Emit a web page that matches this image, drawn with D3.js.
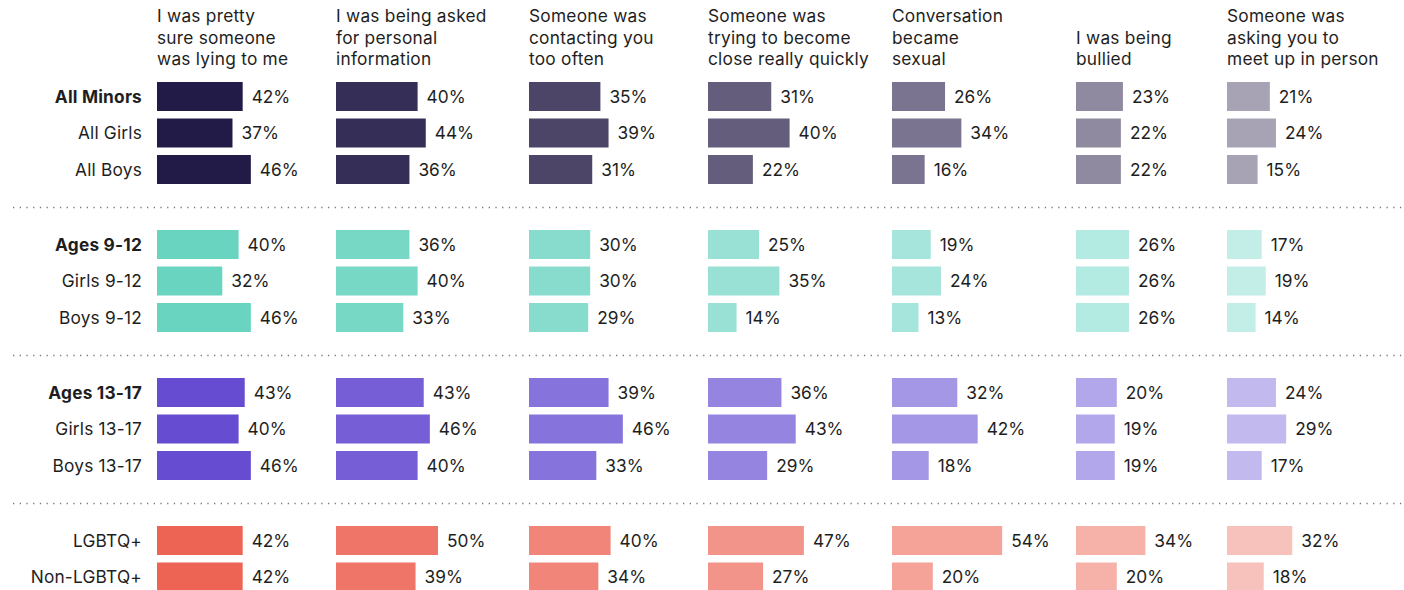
<!DOCTYPE html>
<html>
<head>
<meta charset="utf-8">
<script src="https://cdn.jsdelivr.net/npm/d3@7"></script>
<style>
  body { margin: 0; background: #fff; }
  svg { display: block; font-family: Inter, "Noto Sans", sans-serif; }
</style>
</head>
<body>
<svg id="chart" width="1404" height="590"></svg>
<script>
// column headers (one array per column, lines of text)
var questions = [
    ["I was pretty", "sure someone", "was lying to me"],
    ["I was being asked", "for personal", "information"],
    ["Someone was", "contacting you", "too often"],
    ["Someone was", "trying to become", "close really quickly"],
    ["Conversation", "became", "sexual"],
    ["I was being", "bullied"],
    ["Someone was", "asking you to", "meet up in person"]
];

var rowLabels = ["All Minors", "All Girls", "All Boys",
    "Ages 9-12", "Girls 9-12", "Boys 9-12",
    "Ages 13-17", "Girls 13-17", "Boys 13-17",
    "LGBTQ+", "Non-LGBTQ+"];
var boldRows = ["All Minors", "Ages 9-12", "Ages 13-17"];
var groupOfRow = [0, 0, 0, 1, 1, 1, 2, 2, 2, 3, 3];

// percent values, one array per question, same order as rowLabels
var lyingToMe      = [42, 37, 46, 40, 32, 46, 43, 40, 46, 42, 42];
var personalInfo   = [40, 44, 36, 36, 40, 33, 43, 46, 40, 50, 39];
var contactTooOften = [35, 39, 31, 30, 30, 29, 39, 46, 33, 40, 34];
var closeQuickly   = [31, 40, 22, 25, 35, 14, 36, 43, 29, 47, 27];
var becameSexual   = [26, 34, 16, 19, 24, 13, 32, 42, 18, 54, 20];
var beingBullied   = [23, 22, 22, 26, 26, 26, 20, 19, 19, 34, 20];
var meetUp         = [21, 24, 15, 17, 19, 14, 24, 29, 17, 32, 18];
var values = [lyingToMe, personalInfo, contactTooOften, closeQuickly, becameSexual, beingBullied, meetUp];

// palette: one row of shades per group, darkest on the left
var palette = [
    ["#231b47", "#352e56", "#4d4567", "#645d7c", "#7a7490", "#8f8aa0", "#a7a3b5"],
    ["#69d4bf", "#77d8c5", "#88dcce", "#98e1d4", "#a6e5db", "#b3eae1", "#c3eee7"],
    ["#664cd0", "#765ed6", "#8674dc", "#9585e0", "#a497e5", "#b1a7ea", "#c2b9ef"],
    ["#ed6455", "#ef7568", "#f1857a", "#f3948a", "#f5a298", "#f6b2a9", "#f7c2bc"]
];

var svg = d3.select("#chart");

var colX = [157, 336, 529, 708, 892, 1076, 1227];
var barH = 29, rowStep = 36.5, groupGap = 38.5;
var firstTop = 82;
var fontSize = 17.3;

var x = d3.scaleLinear().domain([0, 100]).range([0, 204]);

// top y of every row, with a gap between groups
var rowTop = [];
var yy = firstTop;
for (var i = 0; i < rowLabels.length; i++) {
    if (i > 0 && groupOfRow[i] != groupOfRow[i - 1]) {
        yy += groupGap;
    }
    rowTop.push(yy);
    yy += rowStep;
}

// dotted separators between groups
var sepY = [];
for (i = 1; i < rowLabels.length; i++) {
    if (groupOfRow[i] != groupOfRow[i - 1]) {
        sepY.push((rowTop[i - 1] + barH + rowTop[i]) / 2);
    }
}
svg.selectAll("line.sep")
    .data(sepY)
    .enter()
    .append("line")
    .attr("class", "sep")
    .attr("x1", 13).attr("x2", 1404)
    .attr("y1", function (d) { return Math.round(d) + 0.5; })
    .attr("y2", function (d) { return Math.round(d) + 0.5; })
    .attr("stroke", "#7a7a7a")
    .attr("stroke-width", 1.3)
    .attr("stroke-dasharray", "1.3,5.4");

// column headers, bottom aligned
var headers = svg.selectAll("text.head")
    .data(questions)
    .enter()
    .append("text")
    .attr("class", "head")
    .attr("font-size", fontSize)
    .attr("letter-spacing", 0.25)
    .attr("fill", "#1e1e1e");
headers.each(function (lines, c) {
    var t = d3.select(this);
    lines.forEach(function (line, k) {
        t.append("tspan")
            .attr("x", colX[c])
            .attr("y", 65 - (lines.length - 1 - k) * 21.5)
            .text(line);
    });
});

// row labels
svg.selectAll("text.rowlab")
    .data(rowLabels)
    .enter()
    .append("text")
    .attr("class", "rowlab")
    .attr("x", 142)
    .attr("y", function (d, i) { return rowTop[i] + barH / 2 + 6; })
    .attr("text-anchor", "end")
    .attr("font-size", fontSize)
    .attr("letter-spacing", 0.2)
    .attr("font-weight", function (d) { return boldRows.indexOf(d) >= 0 ? 700 : 400; })
    .attr("fill", "#1e1e1e")
    .text(function (d) { return d; });

// bars and value labels, one group per column
var cols = svg.selectAll("g.col")
    .data(values)
    .enter()
    .append("g")
    .attr("class", "col")
    .attr("transform", function (d, c) { return "translate(" + colX[c] + ",0)"; });

cols.each(function (vals, c) {
    var g = d3.select(this);
    g.selectAll("rect")
        .data(vals)
        .enter()
        .append("rect")
        .attr("x", 0)
        .attr("y", function (d, i) { return rowTop[i]; })
        .attr("width", function (d) { return x(d); })
        .attr("height", barH)
        .attr("fill", function (d, i) { return palette[groupOfRow[i]][c]; });

    g.selectAll("text")
        .data(vals)
        .enter()
        .append("text")
        .attr("x", function (d) { return x(d) + 9; })
        .attr("y", function (d, i) { return rowTop[i] + barH / 2 + 6; })
        .attr("font-size", fontSize)
        .attr("fill", "#1e1e1e")
        .text(function (d) { return d + "%"; });
});
</script>
</body>
</html>
